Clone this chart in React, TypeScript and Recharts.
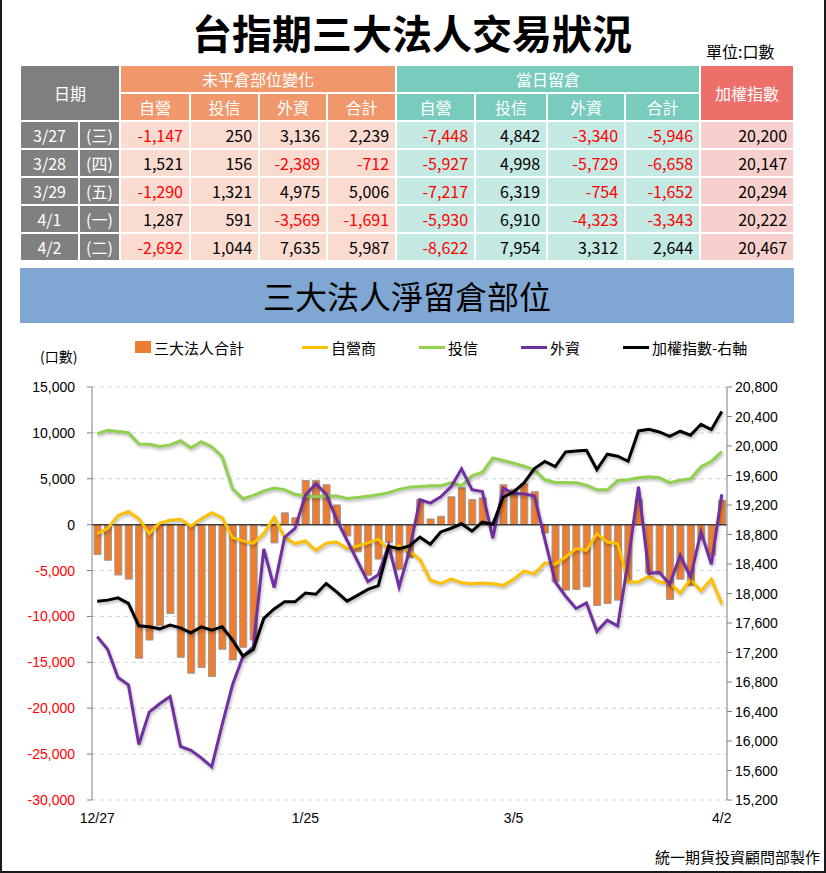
import React from 'react';
import {
  ComposedChart,
  Bar,
  Line,
  XAxis,
  YAxis,
  CartesianGrid,
  ReferenceLine,
} from 'recharts';

// 圖表資料 (12/27 ~ 4/2)
const dates = [
  '12/27', '12/28', '12/29', '1/2', '1/3', '1/4', '1/5', '1/8', '1/9', '1/10',
  '1/11', '1/12', '1/15', '1/16', '1/17', '1/18', '1/19', '1/22', '1/23', '1/24',
  '1/25', '1/26', '1/29', '1/30', '1/31', '2/1', '2/2', '2/5', '2/15', '2/16',
  '2/19', '2/20', '2/21', '2/22', '2/23', '2/26', '2/27', '2/29', '3/1', '3/4',
  '3/5', '3/6', '3/7', '3/8', '3/11', '3/12', '3/13', '3/14', '3/15', '3/18',
  '3/19', '3/20', '3/21', '3/22', '3/25', '3/26', '3/27', '3/28', '3/29', '4/1',
  '4/2',
];

const totalNet = [
  -3260, -3880, -5490, -5940, -14560, -12570, -11010, -9670, -14450, -16190,
  -15560, -16550, -13580, -14740, -13360, -12570, -150, -1990, 1290, 760,
  4820, 4820, 4350, 2150, -1230, -2970, -5500, -3750, -1950, -4870,
  -3600, 2750, 620, 920, 3040, 4020, 2730, 2930, 100, 4345,
  3870, 4455, 3590, -905, -6230, -7135, -7065, -6775, -8800, -8590,
  -8225, -6050, 2750, -5330, -5400, -8150, -5946, -6658, -1652, -3343,
  2644,
];

const dealerNet = [
  -980, -430, 1010, 1450, 650, -980, 180, 470, 580, -150,
  650, 1300, 760, -1410, -1770, -2030, -980, 800, -1380, -2060,
  -1780, -2790, -2010, -1890, -2610, -2320, -1980, -1580, -2720, -2280,
  -2880, -3800, -6050, -6410, -5900, -6340, -6450, -6360, -6450, -6610,
  -5960, -5040, -5360, -4150, -4320, -3520, -2610, -2790, -980, -1890,
  -2070, -6240, -6240, -5620, -6240, -6340, -7448, -5927, -7217, -5930,
  -8622,
];

const trustNet = [
  9920, 10280, 10140, 10010, 8800, 8750, 8510, 8690, 9140, 8370,
  9030, 8490, 7420, 3910, 2830, 3190, 3680, 4000, 3820, 3310,
  3130, 3040, 3130, 3130, 2860, 2950, 3090, 3250, 3490, 3850,
  4090, 4160, 4230, 4230, 4600, 4250, 5320, 5720, 7280, 6990,
  6700, 6370, 5980, 4890, 4600, 4600, 4560, 4300, 3800, 3800,
  4810, 4890, 5110, 5220, 5110, 4570, 4842, 4998, 6319, 6910,
  7954,
];

const foreignNet = [
  -12200, -13580, -16650, -17450, -23960, -20420, -19510, -18720, -24150, -24580,
  -25410, -26390, -21800, -17450, -14370, -13300, -2650, -6850, -1380, -400,
  3220, 4460, 3330, 560, -1700, -3960, -6200, -5470, -2250, -6780,
  -2800, 2720, 2350, 3040, 4160, 6090, 3820, 3600, -1470, 4000,
  3370, 3370, 3130, -1600, -6240, -7800, -9130, -8520, -11620, -10400,
  -11040, -4000, 4130, -5330, -5190, -6490, -3340, -5729, -754, -4323,
  3312,
];

const taiex = [
  17896, 17910, 17941, 17865, 17562, 17548, 17521, 17571, 17534, 17467,
  17548, 17503, 17548, 17368, 17151, 17240, 17662, 17790, 17887, 17887,
  18005, 17990, 18136, 18022, 17896, 17975, 18055, 18107, 18640, 18608,
  18645, 18764, 18668, 18835, 18885, 18945, 18847, 18967, 18940, 19305,
  19377, 19500, 19694, 19790, 19720, 19919, 19933, 19942, 19681, 19888,
  19861, 19793, 20204, 20227, 20190, 20132, 20200, 20147, 20294, 20222,
  20467,
];

const leftTicks = [15000, 10000, 5000, 0, -5000, -10000, -15000, -20000, -25000, -30000];
const rightTicks = [
  20800, 20400, 20000, 19600, 19200, 18800, 18400, 18000, 17600, 17200, 16800, 16400, 16000, 15600, 15200,
];
const xTicks = ['12/27', '1/25', '3/5', '4/2'];

// 表格資料
const tableDates = ['3/27', '3/28', '3/29', '4/1', '4/2'];
const tableWeekdays = ['(三)', '(四)', '(五)', '(一)', '(二)'];
const oiDealer = [-1147, 1521, -1290, 1287, -2692];
const oiTrust = [250, 156, 1321, 591, 1044];
const oiForeign = [3136, -2389, 4975, -3569, 7635];
const oiTotal = [2239, -712, 5006, -1691, 5987];
const posDealer = [-7448, -5927, -7217, -5930, -8622];
const posTrust = [4842, 4998, 6319, 6910, 7954];
const posForeign = [-3340, -5729, -754, -4323, 3312];
const posTotal = [-5946, -6658, -1652, -3343, 2644];
const tableIndex = [20200, 20147, 20294, 20222, 20467];

const chartData = dates.map((d, i) => ({
  date: d,
  total: totalNet[i],
  dealer: dealerNet[i],
  trust: trustNet[i],
  foreign: foreignNet[i],
  taiex: taiex[i],
}));

const FONT = '"Noto Sans CJK TC", "Noto Sans", sans-serif';
const NUM_FONT = '"Liberation Sans", Arial, sans-serif';

const fmt = (v: number) => v.toLocaleString('en-US');

const LeftTick = ({ x, y, payload }: any) => (
  <text
    x={x}
    y={y}
    dy={5}
    textAnchor="end"
    fontSize={14}
    fontFamily={NUM_FONT}
    fill={payload.value < 0 ? '#ff0000' : '#000'}
  >
    {fmt(payload.value)}
  </text>
);

const RightTick = ({ x, y, payload }: any) => (
  <text x={x} y={y} dy={5} textAnchor="start" fontSize={14} fontFamily={NUM_FONT} fill="#000">
    {fmt(payload.value)}
  </text>
);

const colWidths = [59, 41, 70, 69, 68, 69, 79, 72, 78, 75, 94];

const ROW_H = 26;

const headCell = (bg: string): React.CSSProperties => ({
  background: bg,
  color: '#fff',
  fontWeight: 400,
  fontSize: 16,
  height: ROW_H,
  lineHeight: '20px',
  padding: 0,
  border: '2px solid #fff',
  textAlign: 'center',
});

const numCell = (bg: string, v: number): React.CSSProperties => ({
  background: bg,
  color: v < 0 ? '#ff0000' : '#000',
  fontSize: 16,
  height: ROW_H,
  lineHeight: '20px',
  padding: '0 6px 0 0',
  border: '2px solid #fff',
  textAlign: 'right',
});

const dateCell: React.CSSProperties = {
  background: '#808080',
  color: '#fff',
  fontSize: 16,
  height: ROW_H,
  lineHeight: '20px',
  padding: 0,
  border: '2px solid #fff',
  textAlign: 'center',
};

const ORANGE_H = '#f0976c';
const TEAL_H = '#79cbbe';
const RED_H = '#ec6f6a';
const ORANGE_L = '#fadbd0';
const TEAL_L = '#c4e8e2';
const RED_L = '#f7d0ce';

const legendItems = [
  { label: '三大法人合計', color: '#ed7d31', kind: 'box', x: 133 },
  { label: '自營商', color: '#ffc000', kind: 'line', x: 300 },
  { label: '投信', color: '#92d050', kind: 'line', x: 417 },
  { label: '外資', color: '#7030a0', kind: 'line', x: 519 },
  { label: '加權指數-右軸', color: '#000000', kind: 'line', x: 621 },
];

export default function App() {
  return (
    <div
      style={{
        position: 'absolute',
        left: 0,
        top: 0,
        width: 826,
        height: 873,
        background: '#fff',
        fontFamily: FONT,
        boxSizing: 'border-box',
        borderLeft: '2px solid #1a1a1a',
        borderRight: '2px solid #1a1a1a',
        borderBottom: '2px solid #1a1a1a',
        overflow: 'hidden',
      }}
    >
      <style>{'.recharts-line-curve{filter:drop-shadow(1px 2px 1.5px rgba(0,0,0,0.28));}'}</style>

      <div
        style={{
          position: 'absolute',
          left: 0,
          width: 820,
          top: 6,
          textAlign: 'center',
          fontSize: 40,
          fontWeight: 700,
          lineHeight: '52px',
          color: '#000',
        }}
      >
        台指期三大法人交易狀況
      </div>
      <div style={{ position: 'absolute', left: 704, top: 40, fontSize: 16, lineHeight: '22px' }}>單位:口數</div>

      <table
        style={{
          position: 'absolute',
          left: 17,
          top: 64,
          width: 776,
          borderCollapse: 'collapse',
          tableLayout: 'fixed',
          fontFamily: FONT,
        }}
      >
        <colgroup>
          {colWidths.map((w, i) => (
            <col key={i} style={{ width: w }} />
          ))}
        </colgroup>
        <tbody>
          <tr>
            <th colSpan={2} rowSpan={2} style={headCell('#7f7f7f')}>
              日期
            </th>
            <th colSpan={4} style={headCell(ORANGE_H)}>
              未平倉部位變化
            </th>
            <th colSpan={4} style={headCell(TEAL_H)}>
              當日留倉
            </th>
            <th rowSpan={2} style={headCell(RED_H)}>
              加權指數
            </th>
          </tr>
          <tr>
            {['自營', '投信', '外資', '合計'].map((t) => (
              <th key={'o' + t} style={headCell(ORANGE_H)}>
                {t}
              </th>
            ))}
            {['自營', '投信', '外資', '合計'].map((t) => (
              <th key={'p' + t} style={headCell(TEAL_H)}>
                {t}
              </th>
            ))}
          </tr>
          {tableDates.map((d, i) => (
            <tr key={d}>
              <td style={dateCell}>{d}</td>
              <td style={dateCell}>{tableWeekdays[i]}</td>
              <td style={numCell(ORANGE_L, oiDealer[i])}>{fmt(oiDealer[i])}</td>
              <td style={numCell(ORANGE_L, oiTrust[i])}>{fmt(oiTrust[i])}</td>
              <td style={numCell(ORANGE_L, oiForeign[i])}>{fmt(oiForeign[i])}</td>
              <td style={numCell(ORANGE_L, oiTotal[i])}>{fmt(oiTotal[i])}</td>
              <td style={numCell(TEAL_L, posDealer[i])}>{fmt(posDealer[i])}</td>
              <td style={numCell(TEAL_L, posTrust[i])}>{fmt(posTrust[i])}</td>
              <td style={numCell(TEAL_L, posForeign[i])}>{fmt(posForeign[i])}</td>
              <td style={numCell(TEAL_L, posTotal[i])}>{fmt(posTotal[i])}</td>
              <td style={numCell(RED_L, tableIndex[i])}>{fmt(tableIndex[i])}</td>
            </tr>
          ))}
        </tbody>
      </table>

      <div
        style={{
          position: 'absolute',
          left: 18,
          top: 268,
          width: 774,
          height: 55,
          background: '#80a7d3',
          textAlign: 'center',
          fontSize: 32,
          lineHeight: '55px',
          color: '#000',
        }}
      >
        三大法人淨留倉部位
      </div>

      {/* 圖例 */}
      {legendItems.map((it) => (
        <div
          key={it.label}
          style={{ position: 'absolute', left: it.x, top: 336, height: 22, display: 'flex', alignItems: 'center' }}
        >
          {it.kind === 'box' ? (
            <span style={{ display: 'inline-block', width: 16, height: 12, background: it.color, marginRight: 3 }} />
          ) : (
            <span style={{ display: 'inline-block', width: 26, height: 3, background: it.color, marginRight: 3 }} />
          )}
          <span style={{ fontSize: 15, color: '#000' }}>{it.label}</span>
        </div>
      ))}
      <div style={{ position: 'absolute', left: 38, top: 346, fontSize: 14, lineHeight: '20px' }}>(口數)</div>

      <div style={{ position: 'absolute', left: 0, top: 370 }}>
        <ComposedChart width={826} height={470} data={chartData} margin={{ top: 17, right: 0, bottom: 10, left: 0 }}>
          <CartesianGrid yAxisId="left" vertical={false} strokeDasharray="4 4" stroke="#d3d3d3" />
          <XAxis
            dataKey="date"
            ticks={xTicks}
            interval={0}
            axisLine={false}
            tickLine={false}
            tickSize={0}
            tickMargin={13}
            height={30}
            tick={{ fontSize: 14, fill: '#000', fontFamily: NUM_FONT }}
          />
          <YAxis
            yAxisId="left"
            domain={[-30000, 15000]}
            ticks={leftTicks}
            interval={0}
            width={90}
            tickSize={5}
            tickMargin={12}
            axisLine={{ stroke: '#7f7f7f' }}
            tickLine={{ stroke: '#7f7f7f' }}
            tick={<LeftTick />}
            allowDataOverflow
          />
          <YAxis
            yAxisId="right"
            orientation="right"
            domain={[15200, 20800]}
            ticks={rightTicks}
            interval={0}
            width={101}
            tickSize={5}
            tickMargin={3}
            axisLine={{ stroke: '#7f7f7f' }}
            tickLine={{ stroke: '#7f7f7f' }}
            tick={<RightTick />}
            allowDataOverflow
          />
          <Bar
            yAxisId="left"
            dataKey="total"
            name="三大法人合計"
            fill="#ed7d31"
            stroke="#9a9a9a"
            strokeWidth={1}
            barSize={7}
            isAnimationActive={false}
          />
          <ReferenceLine yAxisId="left" y={0} stroke="#404040" strokeWidth={1.5} />
          <Line
            yAxisId="left"
            type="linear"
            dataKey="dealer"
            name="自營商"
            stroke="#ffc000"
            strokeWidth={3}
            dot={false}
            activeDot={false}
            isAnimationActive={false}
          />
          <Line
            yAxisId="left"
            type="linear"
            dataKey="trust"
            name="投信"
            stroke="#92d050"
            strokeWidth={3}
            dot={false}
            activeDot={false}
            isAnimationActive={false}
          />
          <Line
            yAxisId="left"
            type="linear"
            dataKey="foreign"
            name="外資"
            stroke="#7030a0"
            strokeWidth={3}
            dot={false}
            activeDot={false}
            isAnimationActive={false}
          />
          <Line
            yAxisId="right"
            type="linear"
            dataKey="taiex"
            name="加權指數-右軸"
            stroke="#000000"
            strokeWidth={3}
            dot={false}
            activeDot={false}
            isAnimationActive={false}
          />
        </ComposedChart>
      </div>

      <div style={{ position: 'absolute', right: 4, top: 846, fontSize: 15, lineHeight: '22px', color: '#000' }}>
        統一期貨投資顧問部製作
      </div>
    </div>
  );
}
